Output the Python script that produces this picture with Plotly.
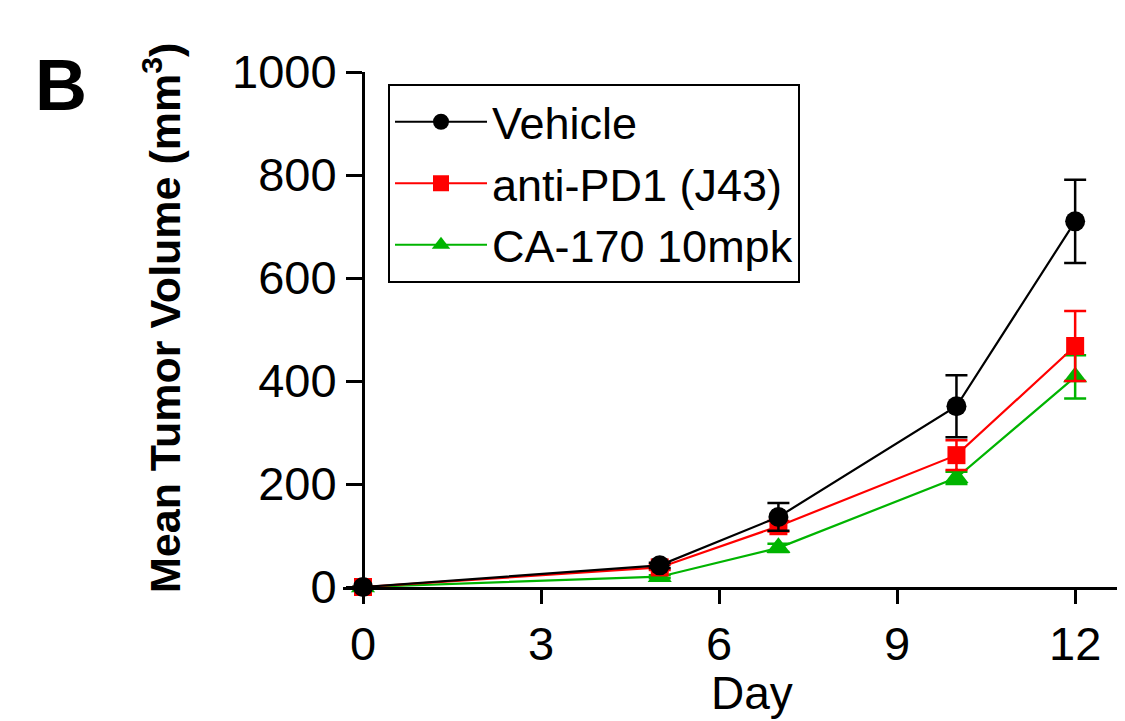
import plotly.graph_objects as go

days = [0, 5, 7, 10, 12]
vehicle = [0, 42, 136, 351, 710]
vehicle_err = [0, 5, 27, 60, 81]
pd1 = [0, 38, 118, 256, 468]
pd1_err = [0, 5, 10, 29, 68]
ca170 = [0, 20, 76, 212, 408]
ca170_err = [0, 3, 8, 12, 42]

x_ticks = [0, 3, 6, 9, 12]
y_ticks = [0, 200, 400, 600, 800, 1000]

FONT = "Liberation Sans, Arial, sans-serif"
GREEN = "#00B400"

# the page body adds an 8px offset; work in window pixels and subtract it
OFF = 8
W, H = 1125, 721
L = 343 - OFF
T = 72 - OFF
R = OFF
B = H - (587 - OFF)
pw = W - L - R
ph = H - T - B


def px_x(xw):
    return (xw - OFF - L) / pw


def px_y(yw):
    return (H - B - (yw - OFF)) / ph


fig = go.Figure()
series = [
    ("CA-170 10mpk", ca170, ca170_err, GREEN, "triangle-up", 21),
    ("anti-PD1 (J43)", pd1, pd1_err, "#FF0000", "square", 18),
    ("Vehicle", vehicle, vehicle_err, "#000000", "circle", 20),
]
for name, vals, err, col, sym, sz in series:
    fig.add_trace(go.Scatter(
        x=days, y=vals, name=name, mode="lines+markers",
        line=dict(color=col, width=2.2),
        marker=dict(color=col, symbol=sym, size=sz, line=dict(width=0)),
        error_y=dict(type="data", array=err, color=col, thickness=2.5, width=11),
        cliponaxis=False,
    ))

x0 = -0.337
x1 = 12.84
fig.update_layout(
    width=W, height=H,
    margin=dict(l=L, r=R, t=T, b=B),
    paper_bgcolor="white", plot_bgcolor="white",
    font=dict(family=FONT, color="black"),
    showlegend=True,
    legend=dict(
        x=px_x(388), y=px_y(84), xanchor="left", yanchor="top",
        traceorder="reversed", bordercolor="black", borderwidth=2,
        font=dict(size=45, family=FONT, color="black"), bgcolor="white",
        itemwidth=92,
    ),
    xaxis=dict(
        range=[x0, x1], tickvals=x_ticks, ticktext=[str(v) for v in x_ticks],
        showline=True, linecolor="black", linewidth=3,
        ticks="outside", ticklen=14, tickwidth=3, tickcolor="black",
        showgrid=False, zeroline=False,
        tickfont=dict(size=47, family=FONT),
    ),
    yaxis=dict(
        range=[0, 1000], tickvals=y_ticks, ticktext=[str(v) for v in y_ticks],
        anchor="free", position=(0 - x0) / (x1 - x0),
        showline=True, linecolor="black", linewidth=3,
        ticks="outside", ticklen=16, tickwidth=3, tickcolor="black",
        showgrid=False, zeroline=False,
        tickfont=dict(size=47, family=FONT),
    ),
)

fig.add_annotation(
    text="<b>Mean Tumor Volume (mm<sup>3</sup>)</b>", textangle=-90,
    xref="paper", yref="paper", x=px_x(162), y=px_y(318),
    xanchor="center", yanchor="middle", showarrow=False,
    font=dict(size=43, family=FONT, color="black"),
)
fig.add_annotation(
    text="Day", xref="paper", yref="paper",
    x=px_x(752), y=px_y(693),
    xanchor="center", yanchor="middle", showarrow=False,
    font=dict(size=46, family=FONT, color="black"),
)
fig.add_annotation(
    text="<b>B</b>", xref="paper", yref="paper",
    x=px_x(61), y=px_y(85),
    xanchor="center", yanchor="middle", showarrow=False,
    font=dict(size=72, family=FONT, color="black"),
)

fig.write_html("out.html")
